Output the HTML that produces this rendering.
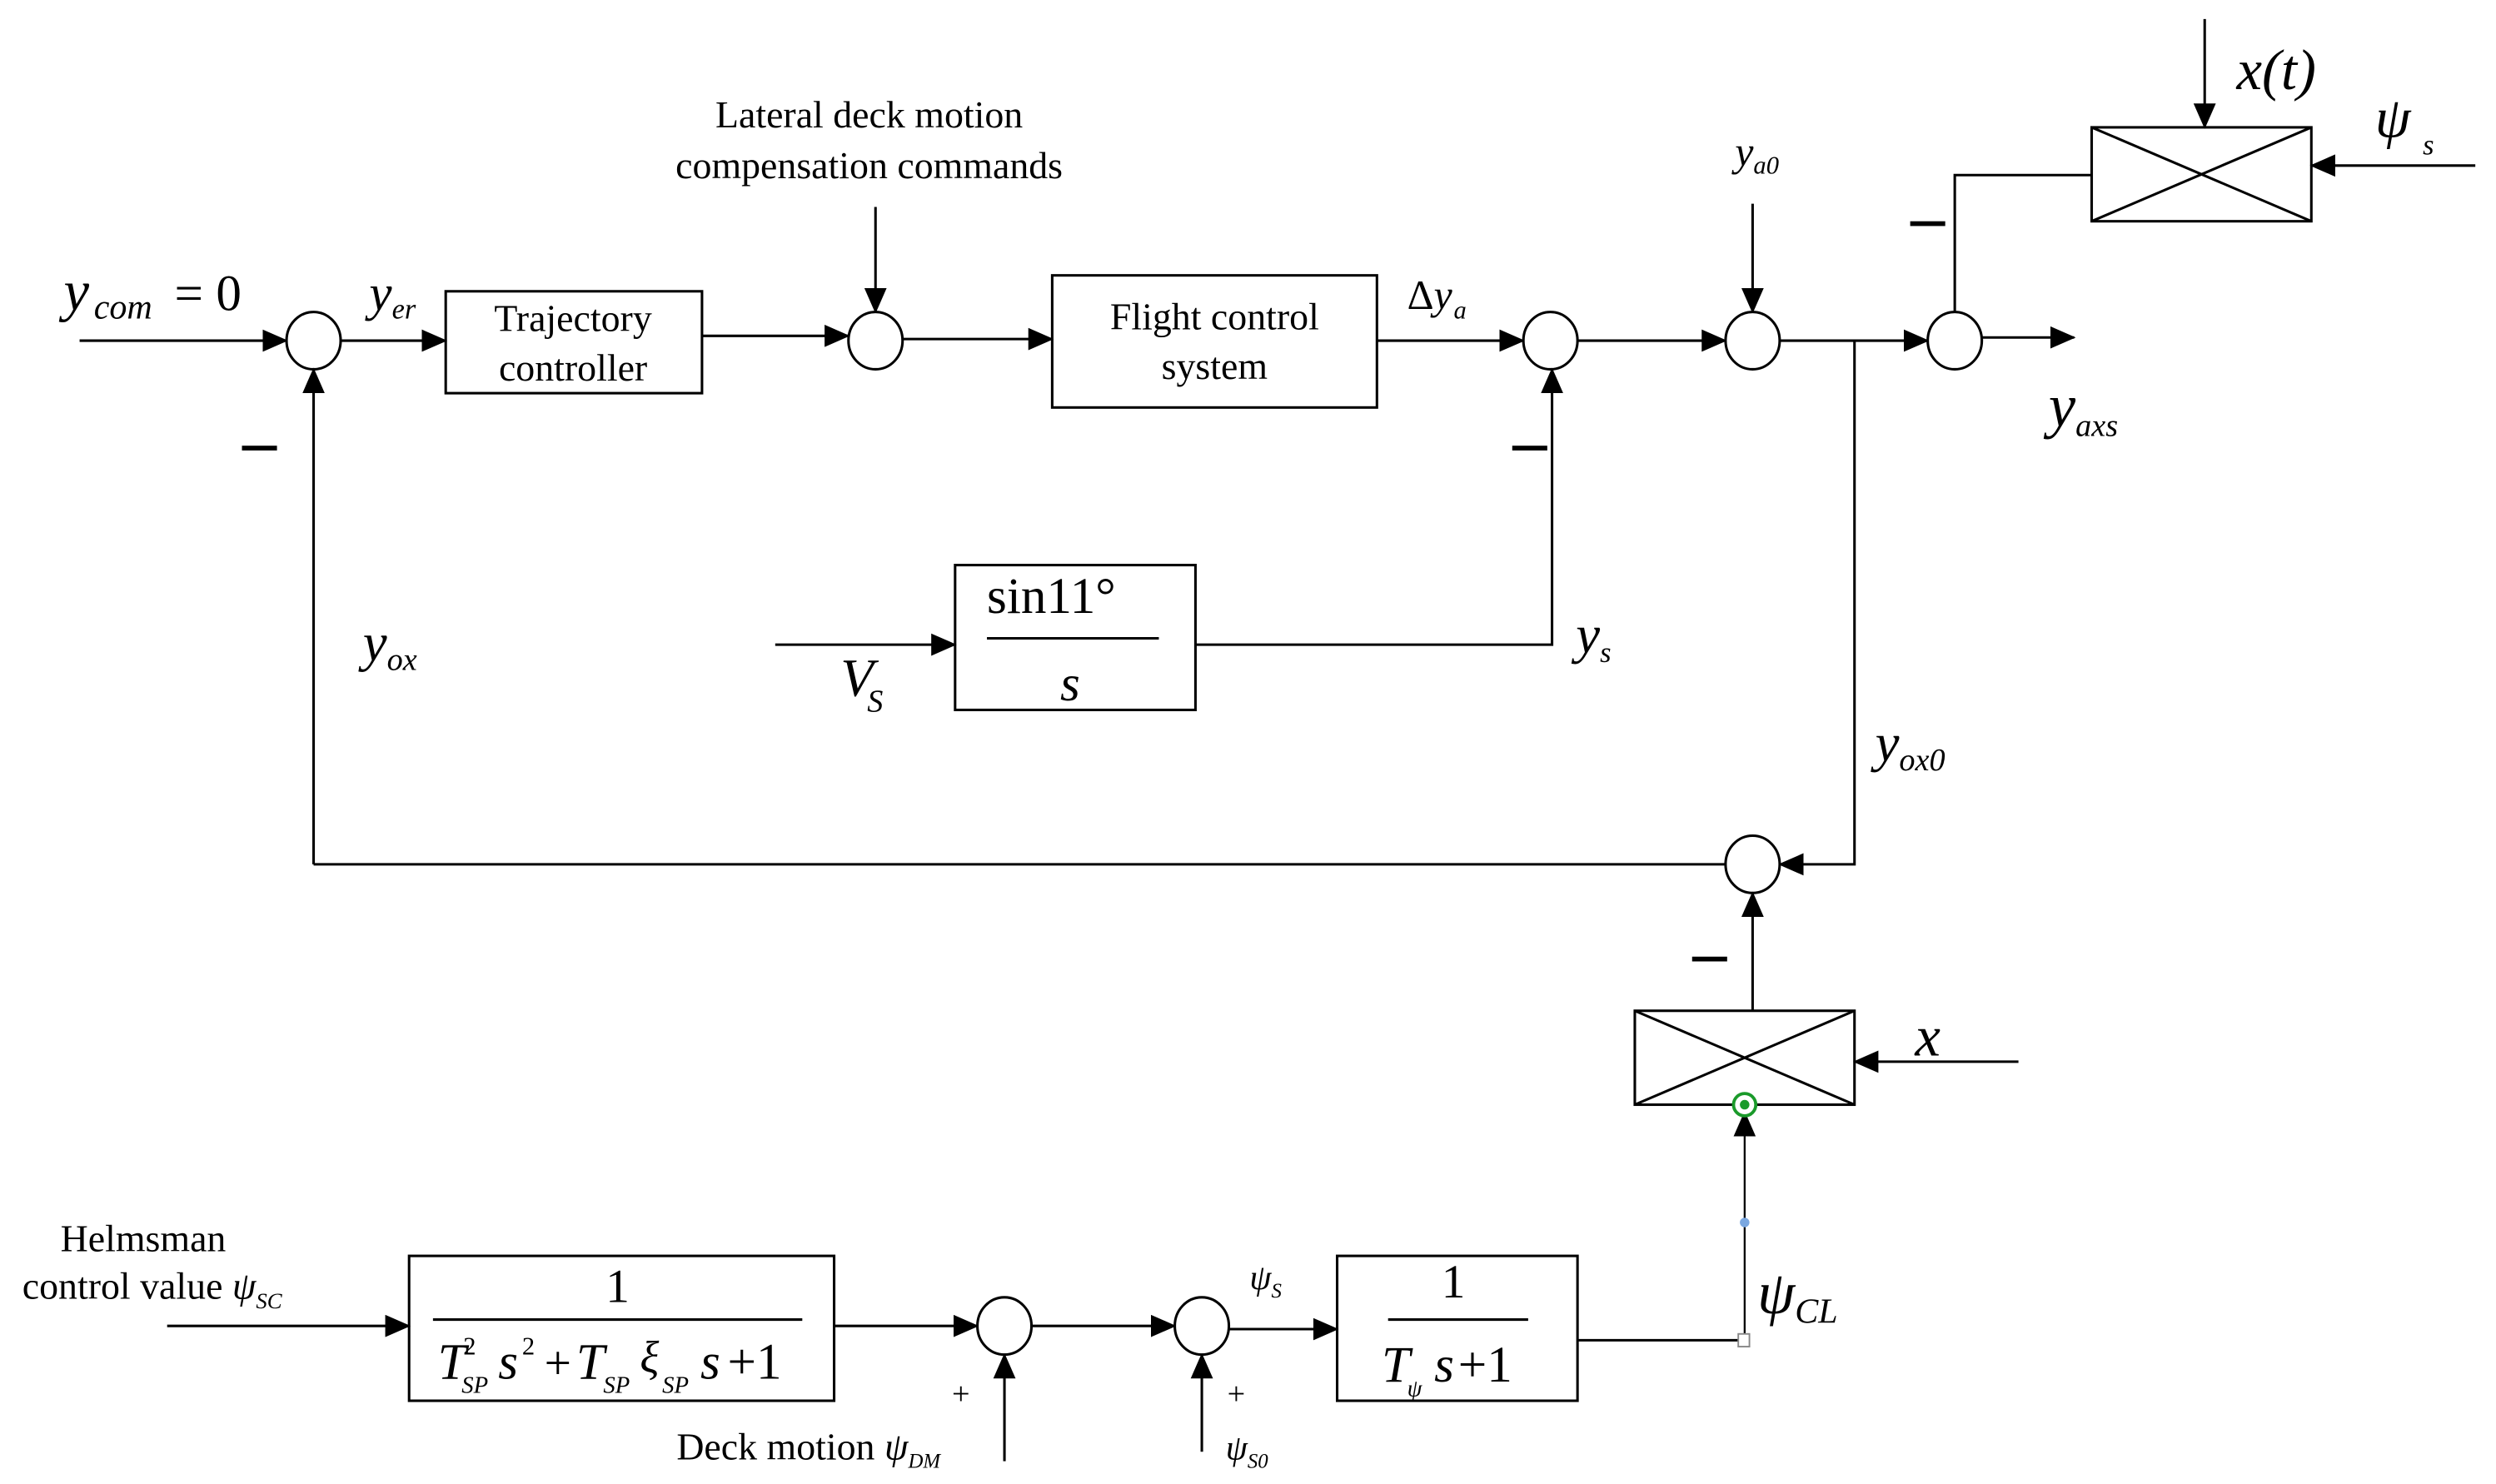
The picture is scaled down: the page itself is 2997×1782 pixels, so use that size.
<!DOCTYPE html>
<html><head><meta charset="utf-8"><style>
html,body{margin:0;padding:0;background:#fff;}
svg{display:block;}
text{font-family:"Liberation Serif",serif;fill:#000;}
.m{font-style:italic;}
</style></head><body>
<svg width="2997" height="1782" viewBox="0 0 1568 932.3" preserveAspectRatio="none" xmlns="http://www.w3.org/2000/svg">
<defs>
<marker id="b" markerWidth="16" markerHeight="14" refX="15" refY="7" orient="auto" markerUnits="userSpaceOnUse"><path d="M0,0 L16,7 L0,14 z" fill="#000"/></marker>
</defs>
<g stroke="#000" stroke-width="1.6" fill="none">
<line x1="50" y1="214" x2="180" y2="214" marker-end="url(#b)"/>
<ellipse cx="197" cy="214" rx="17" ry="18" fill="#fff"/>
<line x1="214" y1="214" x2="280" y2="214" marker-end="url(#b)"/>
<rect x="280" y="183" width="161" height="64"/>
<line x1="441" y1="211" x2="533" y2="211" marker-end="url(#b)"/>
<line x1="550" y1="130" x2="550" y2="196" marker-end="url(#b)"/>
<ellipse cx="550" cy="214" rx="17" ry="18" fill="#fff"/>
<line x1="567" y1="213" x2="661" y2="213" marker-end="url(#b)"/>
<rect x="661" y="173" width="204" height="83"/>
<line x1="865" y1="214" x2="957" y2="214" marker-end="url(#b)"/>
<ellipse cx="974" cy="214" rx="17" ry="18" fill="#fff"/>
<line x1="991" y1="214" x2="1084" y2="214" marker-end="url(#b)"/>
<line x1="1101" y1="128" x2="1101" y2="196" marker-end="url(#b)"/>
<ellipse cx="1101" cy="214" rx="17" ry="18" fill="#fff"/>
<line x1="1118" y1="214" x2="1211" y2="214" marker-end="url(#b)"/>
<ellipse cx="1228" cy="214" rx="17" ry="18" fill="#fff"/>
<line x1="1245" y1="212" x2="1303" y2="212" marker-end="url(#b)"/>
<polyline points="1228,196 1228,110 1314,110"/>
<rect x="1314" y="80" width="138" height="59"/>
<line x1="1314" y1="80" x2="1452" y2="139"/><line x1="1314" y1="139" x2="1452" y2="80"/>
<line x1="1385" y1="12" x2="1385" y2="80" marker-end="url(#b)"/>
<line x1="1555" y1="104" x2="1452" y2="104" marker-end="url(#b)"/>
<line x1="197" y1="543" x2="197" y2="232" marker-end="url(#b)"/>
<line x1="197" y1="543" x2="1084" y2="543"/>
<polyline points="1165,214 1165,543 1118,543" marker-end="url(#b)"/>
<ellipse cx="1101" cy="543" rx="17" ry="18" fill="#fff"/>
<line x1="487" y1="405" x2="600" y2="405" marker-end="url(#b)"/>
<rect x="600" y="355" width="151" height="91"/>
<line x1="620" y1="401" x2="728" y2="401"/>
<polyline points="751,405 975,405 975,232" marker-end="url(#b)"/>
<rect x="1027" y="635" width="138" height="59"/>
<line x1="1027" y1="635" x2="1165" y2="694"/><line x1="1027" y1="694" x2="1165" y2="635"/>
<line x1="1101" y1="635" x2="1101" y2="561" marker-end="url(#b)"/>
<line x1="1268" y1="667" x2="1165" y2="667" marker-end="url(#b)"/>
<line x1="1096" y1="842" x2="1096" y2="699" marker-end="url(#b)" stroke-width="1.2"/>
<line x1="105" y1="833" x2="257" y2="833" marker-end="url(#b)"/>
<rect x="257" y="789" width="267" height="91"/>
<line x1="272" y1="829" x2="504" y2="829"/>
<line x1="524" y1="833" x2="614" y2="833" marker-end="url(#b)"/>
<ellipse cx="631" cy="833" rx="17" ry="18" fill="#fff"/>
<line x1="648" y1="833" x2="738" y2="833" marker-end="url(#b)"/>
<ellipse cx="755" cy="833" rx="17" ry="18" fill="#fff"/>
<line x1="772" y1="835" x2="840" y2="835" marker-end="url(#b)"/>
<rect x="840" y="789" width="151" height="91"/>
<line x1="872" y1="829" x2="960" y2="829"/>
<line x1="991" y1="842" x2="1093" y2="842"/>
<line x1="631" y1="918" x2="631" y2="851" marker-end="url(#b)"/>
<line x1="755" y1="912" x2="755" y2="851" marker-end="url(#b)"/>
</g>
<rect x="1092" y="838" width="7" height="8" fill="#fff" stroke="#888" stroke-width="1"/>
<circle cx="1096" cy="768" r="3" fill="#7aa7e0"/>
<circle cx="1096" cy="694" r="7" fill="#fff" stroke="#1a9a2a" stroke-width="2"/>
<circle cx="1096" cy="694" r="3" fill="#1a9a2a"/>
<g fill="#000">
<rect x="152" y="280" width="22" height="3"/>
<rect x="950" y="280" width="22" height="3"/>
<rect x="1200" y="139" width="22" height="3"/>
<rect x="1063" y="601" width="22" height="3"/>
</g>
<text x="546" y="80" font-size="24" text-anchor="middle">Lateral deck motion</text>
<text x="546" y="112" font-size="24" text-anchor="middle">compensation commands</text>
<text x="360" y="208" font-size="24" text-anchor="middle">Trajectory</text>
<text x="360" y="239" font-size="24" text-anchor="middle">controller</text>
<text x="763" y="207" font-size="24" text-anchor="middle">Flight control</text>
<text x="763" y="238" font-size="24" text-anchor="middle">system</text>
<text x="40" y="195" font-size="36" class="m">y<tspan font-size="22" dx="3" dy="5">com</tspan><tspan font-size="32" font-style="normal" dx="14" dy="-5">= 0</tspan></text>
<text x="232" y="195" font-size="32" class="m">y<tspan font-size="18" dy="5">er</tspan></text>
<text x="884" y="194" font-size="26">Δ<tspan class="m">y</tspan><tspan class="m" font-size="16" dx="1" dy="6">a</tspan></text>
<text x="1090" y="104" font-size="26" class="m">y<tspan font-size="16" dy="5">a0</tspan></text>
<text x="1405" y="56" font-size="36" class="m">x(t)</text>
<text x="1492" y="86" font-size="36" class="m">ψ</text><text x="1522" y="97" font-size="18" class="m">s</text>
<text x="1287" y="268" font-size="38" class="m">y<tspan font-size="20" dy="6">axs</tspan></text>
<text x="620" y="385" font-size="32">sin11°</text>
<text x="666" y="440" font-size="32" class="m">s</text>
<text x="528" y="437" font-size="34" class="m">V<tspan font-size="20" dx="-4" dy="10">S</tspan></text>
<text x="990" y="410" font-size="34" class="m">y<tspan font-size="18" dy="6">s</tspan></text>
<text x="228" y="415" font-size="34" class="m">y<tspan font-size="20" dy="6">ox</tspan></text>
<text x="1178" y="478" font-size="34" class="m">y<tspan font-size="20" dy="6">ox0</tspan></text>
<text x="1203" y="663" font-size="36" class="m">x</text>
<text x="1104" y="825" font-size="38" class="m">ψ<tspan font-size="22" dy="6">CL</tspan></text>
<text x="90" y="786" font-size="24" text-anchor="middle">Helmsman</text>
<text x="14" y="816" font-size="24">control value <tspan class="m">ψ</tspan><tspan class="m" font-size="14" dy="6">SC</tspan></text>
<text x="388" y="818" font-size="30" text-anchor="middle">1</text>
<g font-style="italic">
<text x="275" y="866" font-size="32">T</text>
<text x="290" y="875" font-size="15">SP</text>
<text x="291" y="851" font-size="16" font-style="normal">2</text>
<text x="313" y="866" font-size="32">s</text>
<text x="328" y="851" font-size="16" font-style="normal">2</text>
<text x="342" y="866" font-size="30" font-style="normal">+</text>
<text x="362" y="866" font-size="32">T</text>
<text x="379" y="875" font-size="15">SP</text>
<text x="402" y="862" font-size="28">ξ</text>
<text x="416" y="875" font-size="15">SP</text>
<text x="440" y="866" font-size="32">s</text>
<text x="457" y="866" font-size="32" font-style="normal">+1</text>
</g>
<text x="913" y="815" font-size="30" text-anchor="middle">1</text>
<text x="868" y="868" font-size="32" class="m">T</text>
<text x="884" y="877" font-size="15" class="m">ψ</text>
<text x="901" y="868" font-size="32" class="m">s</text>
<text x="916" y="868" font-size="32">+1</text>
<text x="785" y="810" font-size="22" class="m">ψ<tspan font-size="13" dy="5">S</tspan></text>
<text x="598" y="882" font-size="20">+</text>
<text x="771" y="882" font-size="20">+</text>
<text x="425" y="917" font-size="24">Deck motion <tspan class="m">ψ</tspan><tspan class="m" font-size="13" dy="5">DM</tspan></text>
<text x="770" y="917" font-size="22" class="m">ψ<tspan font-size="13" dy="5">S0</tspan></text>
</svg>
</body></html>
